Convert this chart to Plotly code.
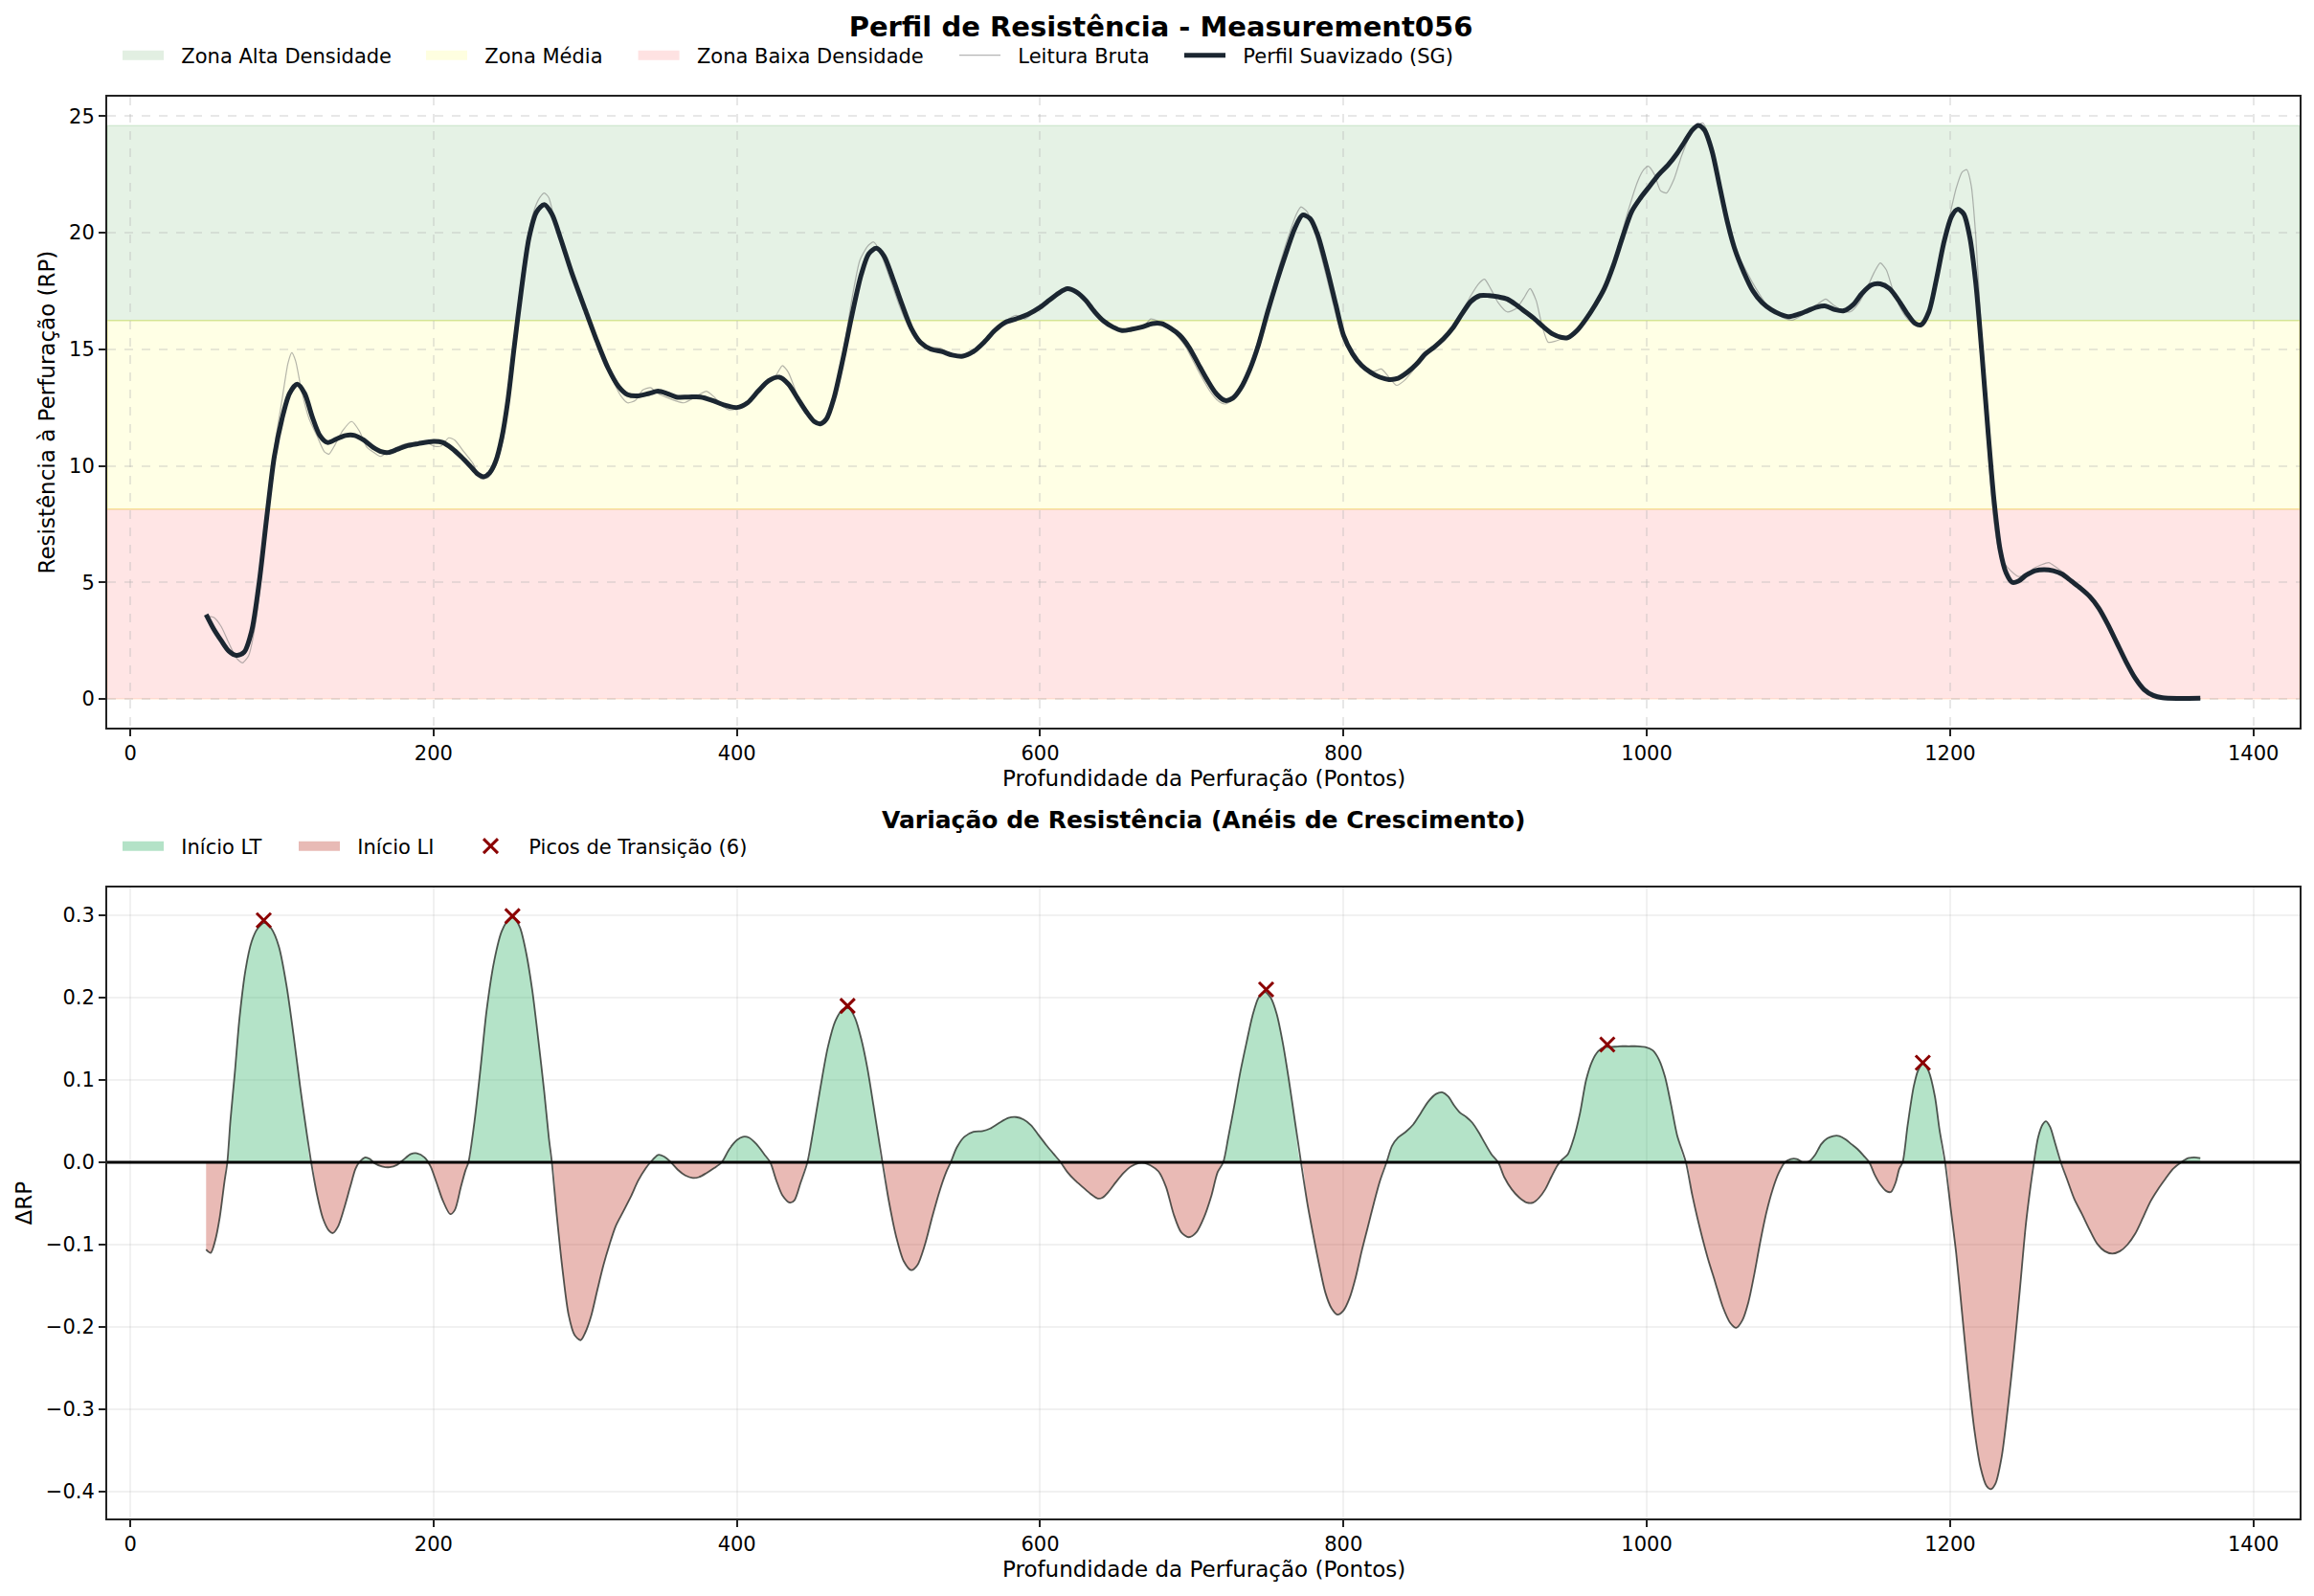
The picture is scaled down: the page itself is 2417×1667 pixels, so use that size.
import numpy as np
import plotly.graph_objects as go

# ---------------- data ----------------
smooth_x = [50, 55, 60, 65, 70, 75, 80, 85, 90, 95, 100, 105, 110, 115, 120, 125, 130, 136, 142, 148,
            154, 160, 166, 170, 176, 182, 190, 200, 206, 212, 218, 224, 229, 233, 237, 241, 245, 249, 253, 258,
            263, 268, 273, 278, 284, 291, 300, 308, 315, 322, 328, 335, 342, 348, 354, 360, 368, 376, 384, 392,
            400, 407, 414, 421, 428, 434, 440, 446, 451, 455, 459, 464, 470, 476, 482, 487, 492, 497, 503, 509,
            515, 521, 528, 535, 542, 549, 556, 563, 570, 577, 584, 592, 600, 606, 612, 618, 624, 630, 636, 642,
            648, 654, 660, 667, 674, 680, 686, 692, 698, 704, 710, 716, 722, 727, 732, 738, 744, 750, 756, 762,
            768, 773, 778, 783, 789, 795, 800, 806, 812, 818, 824, 830, 836, 842, 848, 854, 860, 866, 872, 878,
            884, 890, 896, 902, 908, 914, 920, 926, 932, 938, 944, 948, 954, 960, 966, 972, 978, 984, 990, 996,
            1002, 1008, 1014, 1020, 1025, 1030, 1034, 1038, 1043, 1048, 1053, 1058, 1064, 1070, 1076, 1082, 1088, 1094, 1100, 1106,
            1112, 1118, 1124, 1130, 1136, 1142, 1148, 1154, 1160, 1166, 1172, 1177, 1181, 1186, 1191, 1196, 1201, 1205, 1209, 1213,
            1217, 1221, 1225, 1229, 1233, 1237, 1241, 1245, 1250, 1256, 1262, 1268, 1274, 1280, 1286, 1292, 1298, 1304, 1310, 1316,
            1322, 1328, 1334, 1340, 1350, 1365]
smooth_y = [3.62, 3.0, 2.5, 2.05, 1.87, 2.0, 2.9, 5.0, 7.8, 10.4, 12.0, 13.1, 13.5, 13.1, 12.1, 11.3, 11.0, 11.15, 11.3, 11.3,
            11.1, 10.8, 10.6, 10.57, 10.7, 10.85, 10.95, 11.05, 11.0, 10.75, 10.4, 10.0, 9.65, 9.53, 9.7, 10.2, 11.2, 12.8, 15.0, 17.6,
            19.8, 20.9, 21.2, 20.8, 19.7, 18.3, 16.7, 15.3, 14.2, 13.4, 13.05, 13.0, 13.1, 13.2, 13.1, 12.95, 12.95, 12.95, 12.8, 12.6,
            12.5, 12.7, 13.2, 13.65, 13.8, 13.5, 12.9, 12.3, 11.9, 11.8, 12.0, 12.9, 14.6, 16.5, 18.2, 19.1, 19.33, 19.0, 18.0, 16.9,
            15.9, 15.3, 15.0, 14.9, 14.75, 14.7, 14.9, 15.3, 15.8, 16.15, 16.3, 16.5, 16.8, 17.1, 17.4, 17.6, 17.45, 17.1, 16.6, 16.2,
            15.95, 15.8, 15.85, 15.95, 16.1, 16.1, 15.9, 15.6, 15.1, 14.4, 13.7, 13.1, 12.8, 12.9, 13.3, 14.1, 15.2, 16.6, 17.9, 19.1,
            20.2, 20.75, 20.6, 19.9, 18.5, 16.9, 15.6, 14.8, 14.3, 14.0, 13.8, 13.7, 13.75, 14.0, 14.35, 14.8, 15.1, 15.45, 15.9, 16.5,
            17.05, 17.3, 17.3, 17.25, 17.15, 16.9, 16.6, 16.3, 15.95, 15.65, 15.5, 15.5, 15.8, 16.3, 16.9, 17.6, 18.6, 19.8, 20.9, 21.5,
            22.0, 22.5, 22.9, 23.4, 23.9, 24.4, 24.6, 24.4, 23.5, 22.0, 20.5, 19.3, 18.3, 17.5, 17.0, 16.7, 16.5, 16.4, 16.5, 16.65,
            16.8, 16.85, 16.7, 16.65, 16.9, 17.4, 17.75, 17.8, 17.6, 17.1, 16.5, 16.1, 16.05, 16.6, 18.0, 19.6, 20.7, 21.0, 20.8, 19.8,
            17.8, 14.8, 11.5, 8.5, 6.4, 5.4, 5.0, 5.05, 5.3, 5.5, 5.55, 5.5, 5.35, 5.05, 4.75, 4.4, 3.9, 3.2, 2.4, 1.6,
            0.9, 0.4, 0.15, 0.05, 0.02, 0.03]

raw_x = [50, 55, 60, 65, 70, 74, 78, 82, 86, 91, 96, 100, 104, 106.5, 109, 113, 118, 123, 128, 131,
         135, 140, 146, 151, 156, 160, 165, 170, 176, 182, 188, 195, 200, 205, 210, 214, 220, 226, 231, 236,
         241, 246, 251, 256, 261, 266, 270, 273, 276, 281, 290, 300, 310, 318, 324, 328, 333, 338, 343, 348,
         353, 359, 365, 370, 375, 380, 385, 390, 395, 400, 405, 410, 416, 421, 426, 430, 434, 440, 446, 452,
         456, 461, 466, 471, 476, 481, 486, 490, 494, 500, 507, 513, 520, 527, 534, 540, 548, 555, 563, 570,
         577, 584, 590, 596, 603, 610, 617, 623, 630, 637, 644, 651, 658, 664, 669, 673, 678, 684, 690, 696,
         704, 712, 718, 722, 726, 732, 740, 748, 756, 764, 769, 772, 776, 782, 790, 797, 803, 809, 815, 820,
         825, 830, 835, 840, 846, 852, 858, 865, 872, 878, 884, 889, 893, 897, 902, 908, 914, 919, 923, 927,
         931, 935, 940, 946, 952, 958, 964, 970, 976, 982, 988, 994, 998, 1001, 1005, 1009, 1013, 1018, 1023, 1028,
         1033, 1037, 1042, 1048, 1054, 1060, 1066, 1072, 1078, 1084, 1090, 1096, 1102, 1108, 1113, 1118, 1123, 1128, 1134, 1140,
         1145, 1150, 1154, 1158, 1162, 1167, 1172, 1177, 1182, 1186, 1190, 1195, 1200, 1204, 1208, 1211, 1214, 1217, 1220, 1223,
         1226, 1229, 1232, 1236, 1240, 1245, 1250, 1255, 1260, 1265, 1270, 1276, 1283, 1290, 1296, 1302, 1308, 1314, 1320, 1326,
         1332, 1338, 1345, 1365]
raw_y = [3.55, 3.5, 3.1, 2.4, 1.75, 1.55, 1.85, 3.0, 5.0, 8.5, 11.2, 12.8, 14.4, 14.85, 14.5, 13.2, 12.0, 11.3, 10.6, 10.5,
         10.9, 11.5, 11.9, 11.5, 10.8, 10.6, 10.4, 10.6, 10.8, 10.95, 11.0, 11.0, 10.85, 10.85, 11.2, 11.1, 10.6, 10.1, 9.45, 9.5,
         10.0, 11.2, 13.8, 17.0, 19.4, 20.9, 21.5, 21.7, 21.5, 20.2, 18.4, 16.6, 15.0, 13.7, 12.95, 12.7, 12.8, 13.25, 13.35, 13.1,
         12.95, 12.8, 12.7, 12.85, 13.05, 13.2, 12.95, 12.6, 12.4, 12.45, 12.6, 12.95, 13.3, 13.6, 13.9, 14.3, 14.0, 13.0, 12.2, 11.9,
         11.8, 12.3, 13.5, 15.2, 17.2, 18.8, 19.4, 19.6, 19.25, 18.2, 16.9, 16.0, 15.4, 15.1, 15.05, 14.85, 14.65, 14.8, 15.3, 15.8,
         16.2, 16.45, 16.3, 16.6, 16.95, 17.3, 17.6, 17.5, 17.15, 16.6, 16.1, 15.8, 15.75, 15.9, 16.05, 16.3, 16.2, 16.0, 15.6, 15.1,
         14.1, 13.2, 12.75, 12.65, 12.8, 13.3, 14.6, 16.3, 18.2, 19.9, 20.8, 21.1, 20.9, 19.8, 17.8, 16.0, 15.0, 14.4, 14.2, 14.05,
         14.15, 13.8, 13.45, 13.65, 14.1, 14.6, 15.0, 15.4, 16.0, 16.6, 17.3, 17.8, 18.0, 17.6, 17.0, 16.6, 16.75, 17.2, 17.6, 17.1,
         16.0, 15.3, 15.35, 15.5, 15.7, 16.1, 16.6, 17.3, 18.1, 19.6, 21.0, 22.2, 22.7, 22.85, 22.5, 21.8, 21.7, 22.3, 23.3, 24.1,
         24.6, 24.7, 23.9, 22.0, 20.3, 19.1, 18.3, 17.6, 17.0, 16.6, 16.35, 16.25, 16.45, 16.7, 16.95, 17.15, 16.9, 16.7, 16.6, 17.0,
         17.6, 18.3, 18.7, 18.4, 17.6, 16.8, 16.3, 16.05, 16.2, 16.6, 17.8, 19.4, 20.8, 21.9, 22.6, 22.7, 22.0, 19.8, 16.4, 12.8,
         9.8, 7.6, 6.4, 5.8, 5.5, 5.25, 5.35, 5.6, 5.75, 5.85, 5.65, 5.35, 4.95, 4.55, 4.15, 3.5, 2.7, 1.9, 1.15, 0.6,
         0.25, 0.08, 0.03, 0.02]

delta_x = [50, 53, 56, 59, 62, 64, 66, 69, 72, 76, 80, 84, 88.5, 93, 98, 103, 108, 112, 116, 119.3,
           123, 127, 131, 133.5, 137, 141, 145, 148.5, 151, 155, 158, 161, 166, 171, 176, 180, 185, 189, 194, 198,
           202, 206, 211, 214, 218, 221, 223, 227, 231, 235, 240, 245, 250, 253, 257, 261, 265, 269, 273, 276,
           278, 281, 285, 289, 293, 297, 300, 304, 308, 312, 316, 320, 325, 330, 335, 340, 343, 348, 352, 356,
           361, 366, 371, 375, 380, 385, 390, 395, 400, 404, 408, 413, 418, 422, 426, 430, 435, 438, 442, 446.5,
           450, 455, 460, 465, 470, 474, 478, 482, 486, 490, 493, 496, 500, 505, 510, 515, 519, 524, 529, 534,
           538, 541, 545, 550, 556, 562, 567, 573, 579, 584, 589, 594, 599, 604, 609, 613.5, 618, 623, 628, 633,
           638, 641, 645, 650, 655, 660, 665, 669, 673, 678, 683, 688, 693, 698, 703, 708, 713, 717, 720.7, 724,
           728, 732, 736, 740, 744, 748, 752, 756, 760, 764, 768, 772, 776, 780, 784, 788, 792, 796, 800, 804,
           808, 812, 816, 820, 824, 828.4, 832, 836, 841, 846, 851, 856, 861, 865, 869, 873, 877, 881, 885, 889,
           893, 897.5, 902, 906, 911, 916, 921, 925, 929, 933, 937, 941, 944, 948, 952, 956, 960, 964, 968, 972,
           976, 982, 988, 994, 999, 1004, 1008, 1012, 1016, 1020, 1025.8, 1030, 1035, 1040, 1045, 1050, 1055, 1059, 1063, 1067,
           1071, 1075, 1079, 1083, 1087, 1091, 1095, 1099, 1103, 1107, 1111, 1115, 1119, 1123, 1127, 1131, 1135, 1139, 1143, 1146.7,
           1150, 1154, 1158, 1161, 1164, 1166.5, 1168.7, 1172, 1176, 1179, 1182.5, 1186, 1190, 1193, 1196.7, 1200, 1204, 1208, 1212, 1216,
           1220, 1224, 1227, 1230, 1234, 1238, 1242, 1246, 1250, 1253, 1255.3, 1258, 1261, 1263.2, 1266, 1269, 1273, 1277, 1282, 1287,
           1292, 1297, 1302, 1307, 1312, 1317, 1322, 1327, 1332, 1337, 1342, 1347, 1352.4, 1357, 1361, 1365]
delta_y = [-0.106, -0.110, -0.095, -0.067, -0.025, 0.0, 0.05, 0.11, 0.175, 0.234, 0.268, 0.284, 0.291, 0.284, 0.262, 0.215, 0.15, 0.092, 0.04, 0.0,
           -0.038, -0.068, -0.083, -0.086, -0.078, -0.056, -0.03, -0.008, 0.0, 0.006, 0.004, -0.001, -0.005, -0.006, -0.003, 0.003, 0.010, 0.011, 0.006, -0.005,
           -0.025, -0.046, -0.063, -0.058, -0.03, -0.01, 0.0, 0.05, 0.115, 0.185, 0.245, 0.281, 0.296, 0.297, 0.285, 0.255, 0.21, 0.15, 0.085, 0.03,
           0.0, -0.06, -0.13, -0.185, -0.21, -0.216, -0.207, -0.186, -0.155, -0.125, -0.1, -0.078, -0.06, -0.042, -0.022, -0.007, 0.0, 0.009, 0.007, 0.001,
           -0.009, -0.016, -0.019, -0.018, -0.013, -0.007, 0.0, 0.016, 0.027, 0.031, 0.03, 0.022, 0.01, 0.0, -0.022, -0.04, -0.049, -0.046, -0.025, 0.0,
           0.035, 0.09, 0.14, 0.172, 0.186, 0.187, 0.175, 0.15, 0.115, 0.07, 0.035, 0.0, -0.045, -0.09, -0.12, -0.131, -0.125, -0.1, -0.065, -0.033,
           -0.012, 0.0, 0.018, 0.031, 0.037, 0.038, 0.041, 0.048, 0.054, 0.055, 0.052, 0.045, 0.033, 0.021, 0.01, 0.0, -0.012, -0.022, -0.03, -0.038,
           -0.044, -0.043, -0.036, -0.024, -0.013, -0.005, -0.001, -0.001, -0.004, -0.011, -0.03, -0.063, -0.085, -0.091, -0.085, -0.067, -0.04, -0.012, 0.0, 0.03,
           0.069, 0.11, 0.145, 0.178, 0.2, 0.207, 0.2, 0.18, 0.145, 0.1, 0.05, 0.0, -0.048, -0.088, -0.125, -0.158, -0.177, -0.185, -0.18, -0.165,
           -0.14, -0.108, -0.079, -0.05, -0.023, 0.0, 0.02, 0.03, 0.037, 0.046, 0.06, 0.074, 0.083, 0.085, 0.08, 0.069, 0.06, 0.055, 0.048, 0.037,
           0.024, 0.01, 0.0, -0.018, -0.033, -0.043, -0.049, -0.049, -0.043, -0.033, -0.018, -0.004, 0.003, 0.01, 0.03, 0.06, 0.1, 0.123, 0.135, 0.14,
           0.14, 0.141, 0.141, 0.141, 0.14, 0.136, 0.125, 0.104, 0.07, 0.033, 0.0, -0.04, -0.08, -0.115, -0.145, -0.175, -0.195, -0.201, -0.192, -0.17,
           -0.135, -0.095, -0.06, -0.033, -0.013, 0.0, 0.004, 0.004, 0.0, 0.001, 0.009, 0.022, 0.029, 0.032, 0.032, 0.028, 0.022, 0.016, 0.008, 0.0,
           -0.014, -0.027, -0.035, -0.036, -0.025, -0.008, 0.0, 0.045, 0.092, 0.112, 0.12, 0.11, 0.08, 0.04, 0.0, -0.05, -0.11, -0.185, -0.26, -0.325,
           -0.37, -0.393, -0.397, -0.39, -0.358, -0.3, -0.232, -0.155, -0.075, -0.03, 0.0, 0.03, 0.046, 0.05, 0.043, 0.025, 0.0, -0.02, -0.045, -0.063,
           -0.082, -0.099, -0.108, -0.111, -0.108, -0.1, -0.087, -0.068, -0.048, -0.033, -0.02, -0.008, 0.0, 0.005, 0.006, 0.005]

peak_x = [88, 252, 473, 749, 974, 1182]
peak_y = [0.294, 0.299, 0.190, 0.210, 0.143, 0.121]

zone_names = ["Zona Alta Densidade", "Zona Média", "Zona Baixa Densidade"]
zone_low = [16.23, 8.14, 0.0]
zone_high = [24.59, 16.23, 8.14]
zone_fill = ["rgba(0,128,0,0.10)", "rgba(255,255,0,0.10)", "rgba(255,0,0,0.10)"]
zone_edge = ["rgba(0,128,0,0.12)", "rgba(220,220,0,0.25)", "rgba(255,120,0,0.12)"]
zone_swatch = ["rgb(226,239,226)", "rgb(254,254,224)", "rgb(254,226,226)"]

x_ticks = [0, 200, 400, 600, 800, 1000, 1200, 1400]

# ---------------- geometry (page pixels; the page body adds an 8px offset) ----------------
FONT = "DejaVu Sans"
OFF = 8
W, H = 2417 - OFF, 1667 - OFF
PL, PR, PT, PB = 112, 2402, 101, 1586          # plot area in page pixels
ML, MR, MT, MB = PL - OFF, W - (PR - OFF), PT - OFF, H - (PB - OFF)
PW = PR - PL
PH = PB - PT
PAD = "\u00a0\u00a0"


def px_x(px):
    return (px - PL) / PW


def px_y(py):
    return (PB - py) / PH


fig = go.Figure()

# raw + smooth (top)
fig.add_trace(go.Scatter(x=raw_x, y=raw_y, mode="lines", name=PAD + "Leitura Bruta",
                         line=dict(color="rgba(120,120,120,0.55)", width=1.2, shape="spline", smoothing=0.6),
                         xaxis="x", yaxis="y", legend="legend4"))
fig.add_trace(go.Scatter(x=smooth_x, y=smooth_y, mode="lines", name=PAD + "Perfil Suavizado (SG)",
                         line=dict(color="#1b2631", width=5, shape="spline", smoothing=0.8),
                         xaxis="x", yaxis="y", legend="legend5"))

# legend swatches for the zones (legend only)
for i, lg in enumerate(["legend", "legend2", "legend3"]):
    fig.add_trace(go.Scatter(x=[None], y=[None], mode="lines", name=PAD + zone_names[i],
                             line=dict(color=zone_swatch[i], width=15),
                             xaxis="x", yaxis="y", legend=lg))

# delta fills (bottom)
d = np.array(delta_y)
pos = np.maximum(d, 0.0)
neg = np.minimum(d, 0.0)
fig.add_trace(go.Scatter(x=delta_x, y=pos, mode="lines", showlegend=False, fill="tozeroy",
                         fillcolor="rgba(39,174,96,0.35)",
                         line=dict(color="rgba(39,174,96,0.0)", width=0.5, shape="spline", smoothing=0.8),
                         xaxis="x2", yaxis="y2"))
fig.add_trace(go.Scatter(x=delta_x, y=neg, mode="lines", showlegend=False, fill="tozeroy",
                         fillcolor="rgba(192,57,43,0.35)",
                         line=dict(color="rgba(192,57,43,0.0)", width=0.5, shape="spline", smoothing=0.8),
                         xaxis="x2", yaxis="y2"))
fig.add_trace(go.Scatter(x=delta_x, y=delta_y, mode="lines", showlegend=False,
                         line=dict(color="rgba(40,45,40,0.8)", width=1.8, shape="spline", smoothing=0.8),
                         xaxis="x2", yaxis="y2"))
fig.add_trace(go.Scatter(x=[None], y=[None], mode="lines", name=PAD + "Início LT",
                         line=dict(color="rgb(179,226,199)", width=15),
                         xaxis="x2", yaxis="y2", legend="legend6"))
fig.add_trace(go.Scatter(x=[None], y=[None], mode="lines", name=PAD + "Início LI",
                         line=dict(color="rgb(232,186,181)", width=15),
                         xaxis="x2", yaxis="y2", legend="legend7"))
fig.add_trace(go.Scatter(x=peak_x, y=peak_y, mode="markers", name=PAD + "Picos de Transição (6)",
                         marker=dict(symbol="x-thin", size=15, color="#8b0000",
                                     line=dict(color="#8b0000", width=3)),
                         xaxis="x2", yaxis="y2", legend="legend8"))

shapes = []
for i in range(3):
    shapes.append(dict(type="rect", xref="x domain", x0=0, x1=1, yref="y",
                       y0=zone_low[i], y1=zone_high[i], fillcolor=zone_fill[i],
                       line=dict(color=zone_edge[i], width=1.5), layer="below"))
shapes.append(dict(type="line", xref="x2 domain", x0=0, x1=1, yref="y2", y0=0, y1=0,
                   line=dict(color="black", width=2.8), layer="above"))
fig.update_layout(shapes=shapes)

axis_common = dict(showline=True, linecolor="#222", linewidth=2, mirror=True,
                   ticks="outside", ticklen=7, tickwidth=1.7, tickcolor="#222",
                   tickfont=dict(family=FONT, size=21, color="black"), zeroline=False)

fig.update_layout(
    width=W, height=H,
    margin=dict(l=ML, r=MR, t=MT, b=MB, autoexpand=False),
    paper_bgcolor="white", plot_bgcolor="rgba(0,0,0,0)",
    font=dict(family=FONT, size=21, color="black"),
    xaxis=dict(domain=[0, 1], anchor="y", range=[-15.2, 1430.5], tickvals=x_ticks,
               showgrid=True, gridcolor="rgba(176,176,176,0.3)", gridwidth=1.6, griddash="dash", **axis_common),
    yaxis=dict(domain=[px_y(760), 1], anchor="x", range=[-1.23, 25.83], dtick=5,
               showgrid=True, gridcolor="rgba(176,176,176,0.3)", gridwidth=1.6, griddash="dash", **axis_common),
    xaxis2=dict(domain=[0, 1], anchor="y2", range=[-15.2, 1430.5], tickvals=x_ticks,
                showgrid=True, gridcolor="rgba(176,176,176,0.18)", gridwidth=1.6, **axis_common),
    yaxis2=dict(domain=[0, px_y(927)], anchor="x2", range=[-0.4326, 0.3338], dtick=0.1, tickformat=".1f",
                showgrid=True, gridcolor="rgba(176,176,176,0.18)", gridwidth=1.6, **axis_common),
    title=dict(text="<b>Perfil de Resistência - Measurement056</b>", x=px_x(1257), xanchor="center",
               y=1 - (28 - OFF) / H, yanchor="middle", yref="container",
               font=dict(family=FONT, size=29, color="black")),
)

# legends (one per entry, to reproduce the spacing)
IW = 43
TXT = IW + 10 + 13   # symbol area + gap + padding before the text
top_text_px = [189, 506, 727.6, 1063, 1298]
bot_text_px = [189, 373, 552]
legend_defs = {}
for nm, tx in zip(["legend", "legend2", "legend3", "legend4", "legend5"], top_text_px):
    legend_defs[nm] = dict(x=px_x(tx - TXT), xanchor="left", y=px_y(58), yanchor="middle",
                           orientation="h", bgcolor="rgba(0,0,0,0)", borderwidth=0, itemwidth=IW,
                           font=dict(family=FONT, size=21, color="black"))
for nm, tx in zip(["legend6", "legend7", "legend8"], bot_text_px):
    legend_defs[nm] = dict(x=px_x(tx - TXT), xanchor="left", y=px_y(884), yanchor="middle",
                           orientation="h", bgcolor="rgba(0,0,0,0)", borderwidth=0, itemwidth=IW,
                           font=dict(family=FONT, size=21, color="black"))
fig.update_layout(**legend_defs)

# titles / labels as annotations
ann = [
    dict(text="<b>Variação de Resistência (Anéis de Crescimento)</b>", x=px_x(1257), y=px_y(856),
         font=dict(family=FONT, size=25, color="black")),
    dict(text="Profundidade da Perfuração (Pontos)", x=px_x(1257), y=px_y(813),
         font=dict(family=FONT, size=23, color="black")),
    dict(text="Profundidade da Perfuração (Pontos)", x=px_x(1257), y=px_y(1639),
         font=dict(family=FONT, size=23, color="black")),
    dict(text="Resistência à Perfuração (RP)", x=px_x(48), y=px_y(430.5), textangle=-90,
         font=dict(family=FONT, size=23, color="black")),
    dict(text="ΔRP", x=px_x(24), y=px_y(1256.5), textangle=-90,
         font=dict(family=FONT, size=23, color="black")),
]
for a in ann:
    a.update(xref="paper", yref="paper", showarrow=False, xanchor="center", yanchor="middle")
fig.update_layout(annotations=ann)

fig.write_html("out.html")
